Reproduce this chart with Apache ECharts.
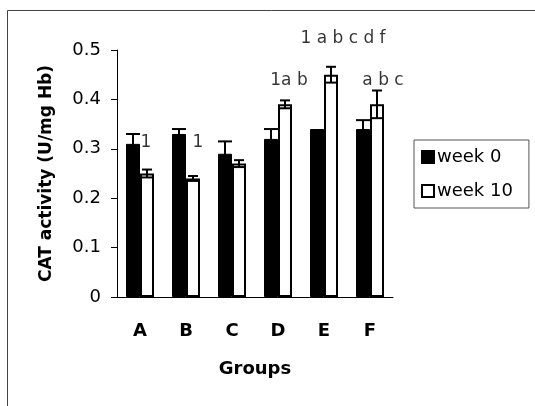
<!DOCTYPE html>
<html>
<head>
<meta charset="utf-8">
<script src="https://cdn.jsdelivr.net/npm/echarts@6/dist/echarts.min.js"></script>
<style>
html,body{margin:0;padding:0;background:#fff;}
#chart{width:535px;height:406px;}
</style>
</head>
<body>
<div id="chart"></div>
<script>
const categories = ['A','B','C','D','E','F'];
const week0 = [0.31, 0.33, 0.29, 0.32, 0.34, 0.34];
const week0Err = [0.02, 0.01, 0.025, 0.02, 0, 0.018];
const week10 = [0.25, 0.24, 0.27, 0.39, 0.45, 0.39];
const week10Err = [0.008, 0.005, 0.007, 0.008, 0.016, 0.028];
const yTicks = [0, 0.1, 0.2, 0.3, 0.4, 0.5];
const annotCats = [0, 1, 3, 4, 5];
const annotValues = [0.312, 0.312, 0.439, 0.524, 0.439];
const annotTexts = ['1', '1', '1a b', '1 a b c d f', 'a b c'];
const annotDx = [6, 12, 11, 19, 13];

const FONT = 'DejaVu Sans';
const BAR_W = 14;

function errSeries(values, errs, off, cap) {
  return {
    type: 'custom',
    z: 10,
    silent: true,
    data: values.map((v, i) => [i, v, errs[i]]),
    renderItem: function (params, api) {
      const i = api.value(0), v = api.value(1), e = api.value(2);
      if (!e) return null;
      const x = api.coord([i, 0])[0] + off;
      const hi = api.coord([i, v + e])[1];
      const lo = api.coord([i, v - e])[1];
      const st = { stroke: '#000', lineWidth: 2 };
      return {
        type: 'group',
        children: [
          { type: 'line', shape: { x1: x, y1: hi, x2: x, y2: lo }, style: st },
          { type: 'line', shape: { x1: x - cap, y1: hi, x2: x + cap, y2: hi }, style: st },
          { type: 'line', shape: { x1: x - cap, y1: lo, x2: x + cap, y2: lo }, style: st }
        ]
      };
    }
  };
}

const chart = echarts.init(document.getElementById('chart'), null, { renderer: 'canvas' });
chart.setOption({
  animation: false,
  backgroundColor: '#fff',
  textStyle: { fontFamily: FONT, color: '#000' },
  graphic: [{
    type: 'rect', silent: true, z: 0,
    shape: { x: 7.5, y: 10.5, width: 700, height: 600 },
    style: { fill: 'none', stroke: '#444', lineWidth: 1 }
  }],
  grid: { left: 117, right: 142, top: 50, bottom: 109 },
  legend: {
    orient: 'vertical',
    left: 414, top: 140,
    padding: [8, 16, 8, 7],
    itemWidth: 12, itemHeight: 12, itemGap: 16,
    icon: 'rect',
    borderColor: '#555', borderWidth: 1,
    textStyle: { fontFamily: FONT, fontSize: 18, color: '#000', padding: [0, 0, 0, -2] },
    data: ['week 0', 'week 10']
  },
  xAxis: {
    type: 'category',
    data: categories,
    name: 'Groups',
    nameLocation: 'middle',
    nameGap: 63,
    nameTextStyle: { fontFamily: FONT, fontSize: 18, fontWeight: 'bold', color: '#000' },
    axisLine: { lineStyle: { color: '#000', width: 1 } },
    axisTick: { length: 6, lineStyle: { color: '#000' } },
    axisLabel: { margin: 25, fontFamily: FONT, fontSize: 18, fontWeight: 'bold', color: '#000' }
  },
  yAxis: {
    type: 'value',
    min: yTicks[0], max: yTicks[yTicks.length - 1], interval: 0.1,
    name: 'CAT activity (U/mg Hb)',
    nameLocation: 'middle',
    nameGap: 62,
    nameTextStyle: { fontFamily: FONT, fontSize: 17, fontWeight: 'bold', color: '#000' },
    splitLine: { show: false },
    axisLine: { show: true, lineStyle: { color: '#000', width: 1 } },
    axisTick: { show: true, length: 6, lineStyle: { color: '#000' } },
    axisLabel: {
      margin: 16, fontFamily: FONT, fontSize: 18, color: '#000',
      formatter: v => (v === 0 ? '0' : v.toFixed(1))
    }
  },
  series: [
    {
      name: 'week 0', type: 'bar', data: week0,
      barWidth: BAR_W, barGap: '0%',
      itemStyle: { color: '#000', borderColor: '#000', borderWidth: 1 }
    },
    {
      name: 'week 10', type: 'bar', data: week10,
      barWidth: BAR_W, barGap: '0%',
      itemStyle: { color: '#fff', borderColor: '#000', borderWidth: 2 }
    },
    errSeries(week0, week0Err, -BAR_W / 2, 7),
    errSeries(week10, week10Err, BAR_W / 2, 5),
    {
      type: 'scatter', silent: true, clip: false, symbolSize: 0, z: 11,
      itemStyle: { color: '#000' },
      data: annotCats.map((c, i) => [c, annotValues[i], i]),
      label: {
        show: true, position: 'inside',
        fontFamily: FONT, fontSize: 17, color: '#000',
        textBorderWidth: 0,
        formatter: p => annotTexts[p.value[2]]
      },
      labelLayout: function (p) {
        return { dx: annotDx[p.dataIndex] };
      }
    }
  ]
});
</script>
</body>
</html>
